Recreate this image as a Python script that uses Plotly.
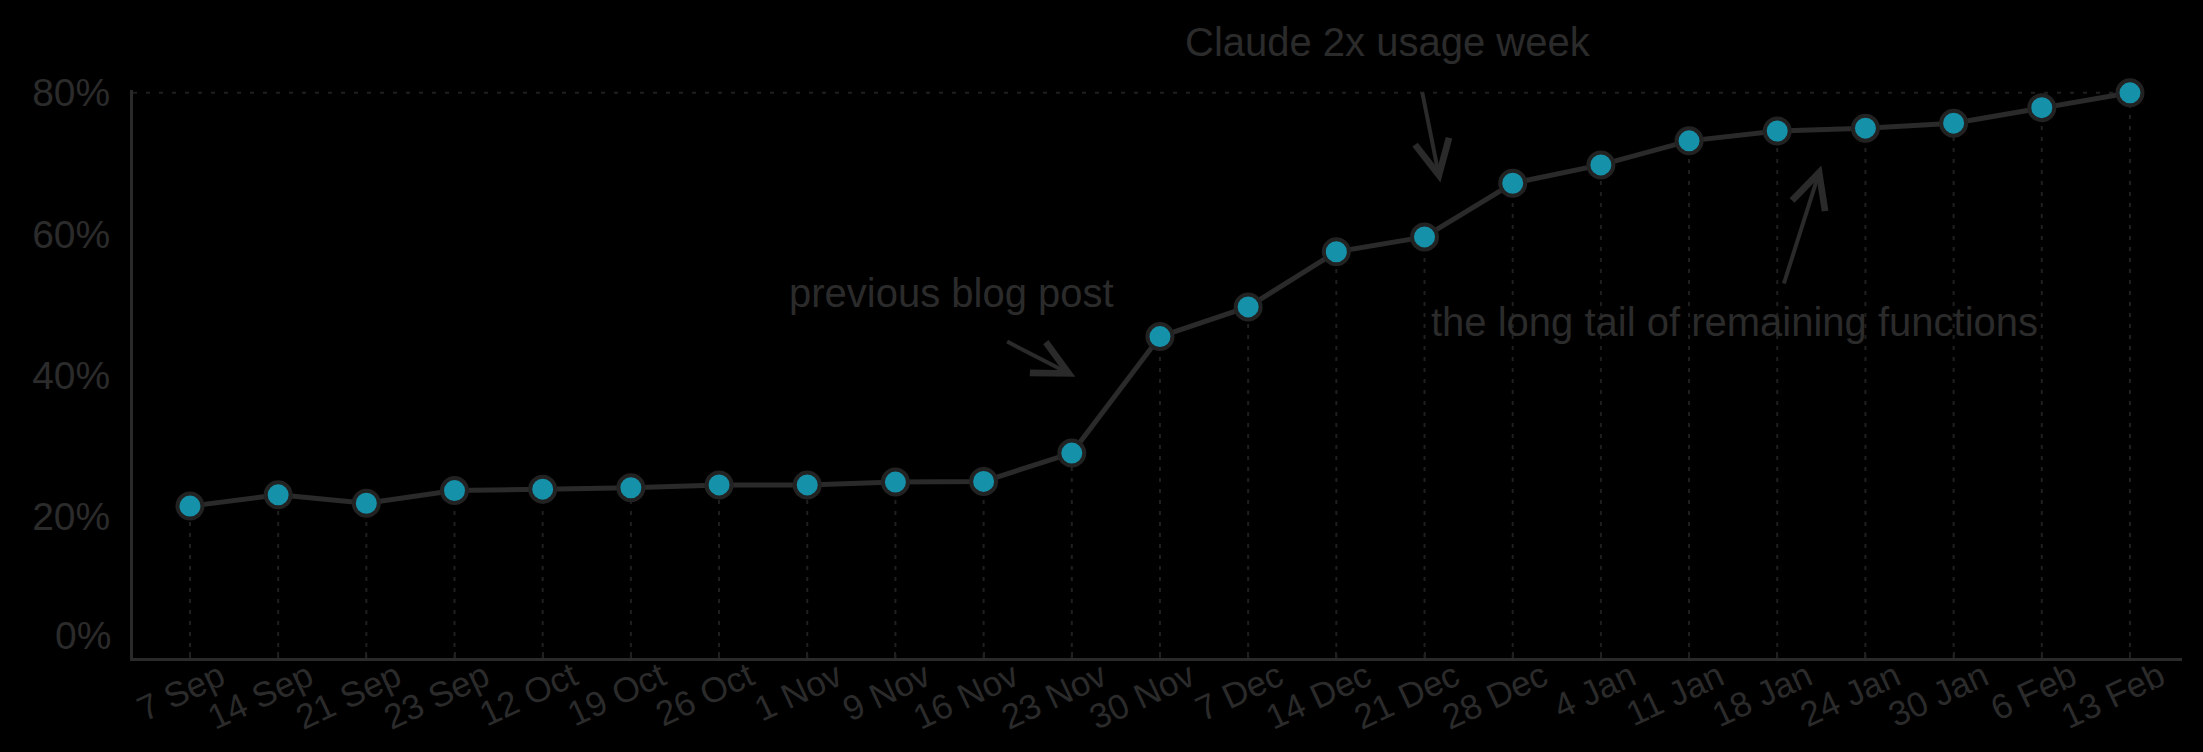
import plotly.graph_objects as go

week_labels = ["7 Sep", "14 Sep", "21 Sep", "23 Sep", "12 Oct", "19 Oct", "26 Oct",
               "1 Nov", "9 Nov", "16 Nov", "23 Nov", "30 Nov", "7 Dec", "14 Dec",
               "21 Dec", "28 Dec", "4 Jan", "11 Jan", "18 Jan", "24 Jan", "30 Jan",
               "6 Feb", "13 Feb"]
pct_values = [21.5, 23.1, 21.9, 23.7, 23.9, 24.1, 24.5, 24.5, 24.9, 25.0, 29.0,
              45.5, 49.7, 57.5, 59.6, 67.2, 69.8, 73.2, 74.6, 75.0, 75.7, 77.9, 80.0]
y_tick_vals = [20, 40, 60, 80]
y_tick_text = ["20%", "40%", "60%", "80%"]

BG = "#000000"
INK = "#2a2a2a"
TEXT = "#2b2b2b"
FAINT = "#1f1f1f"
TEAL = "#1592aa"
FONT = "Liberation Sans, Arial, sans-serif"

idx = list(range(len(week_labels)))
x_min, x_max = -0.646, 22.59

fig = go.Figure()

# dotted drop lines
drop_x, drop_y = [], []
for i, v in zip(idx, pct_values):
    drop_x += [i, i, None]
    drop_y += [0, v, None]
fig.add_trace(go.Scatter(x=drop_x, y=drop_y, mode="lines",
                         line=dict(color=FAINT, width=2, dash="4px,7px"),
                         hoverinfo="skip", showlegend=False))

# dotted line at the top value
top_val = max(pct_values)
fig.add_trace(go.Scatter(x=[x_min, idx[-1]], y=[top_val, top_val], mode="lines",
                         line=dict(color=FAINT, width=2, dash="4px,9px"),
                         hoverinfo="skip", showlegend=False))

# main series
fig.add_trace(go.Scatter(x=idx, y=pct_values, mode="lines+markers",
                         line=dict(color=INK, width=5),
                         marker=dict(size=25, color=TEAL, line=dict(color="#222222", width=4)),
                         cliponaxis=False, showlegend=False))

ann_font = dict(family=FONT, size=40, color=TEXT)
arrow_kw = dict(axref="x", ayref="y", xref="x", yref="y", text="", showarrow=True,
                arrowhead=5, arrowsize=1.7, arrowwidth=4, arrowcolor=INK)
annotations = [
    dict(x=13.59, y=1.0845, text="Claude 2x usage week", showarrow=False, font=ann_font,
         xref="x", yref="paper", yanchor="middle"),
    dict(x=8.64, y=51.6, text="previous blog post", showarrow=False, font=ann_font,
         xref="x", yref="y"),
    dict(x=17.52, y=47.6, text="the long tail of remaining functions", showarrow=False,
         font=ann_font, xref="x", yref="y"),
    dict(x=10.04, y=39.8, ax=9.25, ay=44.9, **arrow_kw),
    dict(x=14.18, y=67.3, ax=13.97, ay=80.3, **arrow_kw),
    dict(x=18.50, y=69.7, ax=18.07, ay=52.8, **arrow_kw),
    # 0% tick label (sits a little above the axis line)
    dict(x=0, y=0, xref="paper", yref="y", text="0%", showarrow=False,
         xanchor="right", yanchor="middle", xshift=-20, yshift=23,
         font=dict(family=FONT, size=39, color=TEXT)),
]

fig.update_layout(
    width=2203, height=752,
    paper_bgcolor=BG, plot_bgcolor=BG,
    margin=dict(l=133, r=21, t=90, b=94, autoexpand=False),
    annotations=annotations,
    showlegend=False,
)

fig.update_xaxes(
    range=[x_min, x_max], automargin=False,
    tickmode="array", tickvals=idx, ticktext=week_labels,
    tickangle=-25, ticklabelshift=30, ticklabelstandoff=-18,
    tickfont=dict(family=FONT, size=35, color=TEXT),
    showgrid=False, zeroline=False,
    showline=True, linecolor=INK, linewidth=3,
    ticks="inside", ticklen=6, tickwidth=2, tickcolor=FAINT,
)
fig.update_yaxes(
    range=[0, 80.4], automargin=False,
    tickmode="array", tickvals=y_tick_vals, ticktext=y_tick_text,
    tickfont=dict(family=FONT, size=39, color=TEXT),
    ticks="", ticklabelstandoff=12,
    showgrid=False, zeroline=False,
    showline=True, linecolor=INK, linewidth=3,
)

fig.write_html(
    "out.html",
    config={"displayModeBar": False},
    post_script="document.body.style.margin='0';document.body.style.background='#000';",
)
